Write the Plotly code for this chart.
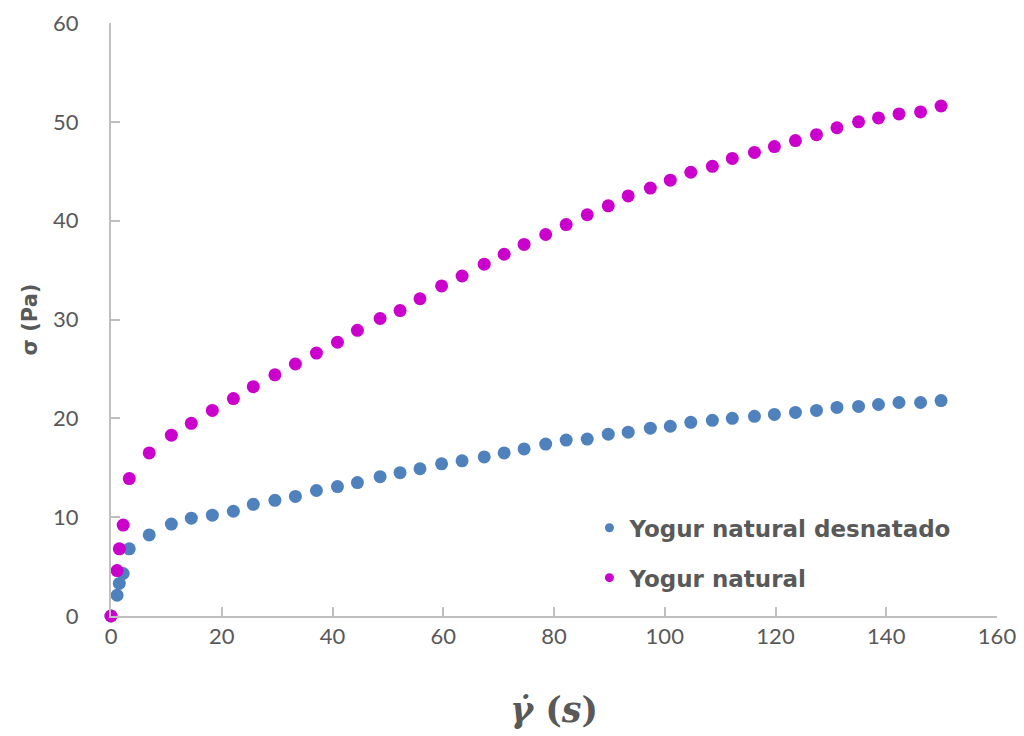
import plotly.graph_objects as go

# Shear rate (1/s)
shear_rate = [0, 1.1, 1.5, 2.2, 3.3, 6.9, 10.9, 14.5, 18.3, 22.1, 25.7, 29.6, 33.3, 37.1,
              40.9, 44.5, 48.6, 52.2, 55.8, 59.7, 63.4, 67.4, 71.0, 74.6, 78.5, 82.2,
              86.0, 89.8, 93.4, 97.4, 101.0, 104.7, 108.6, 112.2, 116.2, 119.8, 123.6,
              127.4, 131.1, 135.0, 138.6, 142.3, 146.2, 149.9]

# Shear stress (Pa)
desnatado = [0, 2.1, 3.3, 4.3, 6.8, 8.2, 9.3, 9.9, 10.2, 10.6, 11.3, 11.7, 12.1, 12.7,
             13.1, 13.5, 14.1, 14.5, 14.9, 15.4, 15.7, 16.1, 16.5, 16.9, 17.4, 17.8,
             17.9, 18.4, 18.6, 19.0, 19.2, 19.6, 19.8, 20.0, 20.2, 20.4, 20.6,
             20.8, 21.1, 21.2, 21.4, 21.6, 21.6, 21.8]

natural = [0, 4.6, 6.8, 9.2, 13.9, 16.5, 18.3, 19.5, 20.8, 22.0, 23.2, 24.4, 25.5, 26.6,
           27.7, 28.9, 30.1, 30.9, 32.1, 33.4, 34.4, 35.6, 36.6, 37.6, 38.6, 39.6,
           40.6, 41.5, 42.5, 43.3, 44.1, 44.9, 45.5, 46.3, 46.9, 47.5, 48.1,
           48.7, 49.4, 50.0, 50.4, 50.8, 51.0, 51.6]

series_names = ["Yogur natural desnatado", "Yogur natural"]
series_colors = ["#4F81BD", "#CC00CC"]

x_ticks = [0, 20, 40, 60, 80, 100, 120, 140, 160]
y_ticks = [0, 10, 20, 30, 40, 50, 60]

fig = go.Figure()
for name, vals, col in zip(series_names, [desnatado, natural], series_colors):
    fig.add_trace(go.Scatter(x=shear_rate, y=vals, mode="markers", name=name,
                             marker=dict(color=col, size=13), showlegend=False,
                             cliponaxis=False))
for i, (name, col) in enumerate(zip(series_names, series_colors)):
    fig.add_trace(go.Scatter(x=[None], y=[None], mode="markers", name="<b>" + name + "</b>",
                             marker=dict(color=col, size=9), legendgroup=f"g{i}",
                             showlegend=True))

gray_text = "#595959"
axis_col = "#BFBFBF"
fig.update_layout(
    width=1016, height=728,
    margin=dict(l=103, r=27, t=15, b=120, autoexpand=False),
    paper_bgcolor="white", plot_bgcolor="white",
    font=dict(family="DejaVu Sans", color=gray_text),
    legend=dict(x=0.54, y=0.185, xanchor="left", yanchor="top",
                font=dict(size=23, family="DejaVu Sans", color=gray_text),
                tracegroupgap=17, bgcolor="rgba(0,0,0,0)"),
    xaxis=dict(range=[0, 160], tickvals=x_ticks, ticktext=[str(v) for v in x_ticks],
               automargin=False,
               showgrid=False, zeroline=False, showline=True, linecolor=axis_col,
               linewidth=2, ticks="inside", ticklen=9, tickcolor=axis_col, tickwidth=2,
               tickfont=dict(size=22, color=gray_text, family="Lato"),
               title=dict(text="<b><i>γ̇</i> (<i>s</i>)</b>", standoff=49,
                          font=dict(size=35, family="DejaVu Serif", color=gray_text))),
    yaxis=dict(range=[0, 60], tickvals=y_ticks, ticktext=[str(v) for v in y_ticks],
               automargin=False,
               showgrid=False, zeroline=False, showline=True, linecolor=axis_col,
               linewidth=2, ticks="inside", ticklen=9, tickcolor=axis_col, tickwidth=2,
               ticklabelstandoff=26, ticklabeloverflow="allow",
               tickfont=dict(size=22, color=gray_text, family="Lato"),
               title=dict(text="<b>σ (Pa)</b>", standoff=10,
                          font=dict(size=21, family="DejaVu Sans", color=gray_text))),
)

fig.write_html("out.html")
